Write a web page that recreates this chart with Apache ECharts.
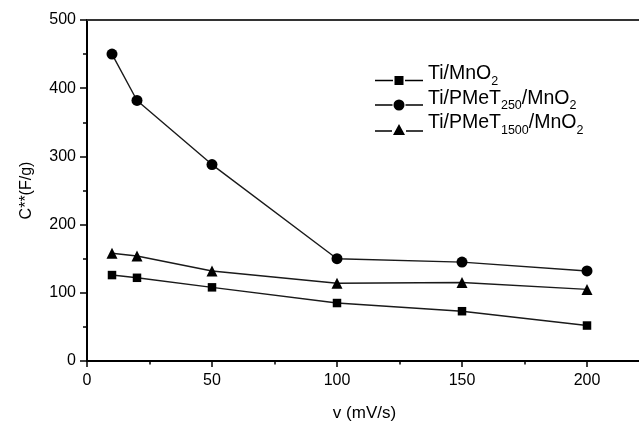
<!DOCTYPE html>
<html>
<head>
<meta charset="utf-8">
<script src="https://cdn.jsdelivr.net/npm/echarts@6/dist/echarts.min.js"></script>
<style>
html,body{margin:0;padding:0;background:#fff;}
#chart{width:639px;height:422px;}
</style>
</head>
<body>
<div id="chart"></div>
<script>
var scanRates = [10, 20, 50, 100, 150, 200];
var tiMnO2 = [126, 122, 108, 85, 73, 52];
var tiPMeT250 = [450, 382, 288, 150, 145, 132];
var tiPMeT1500 = [158, 154, 132, 114, 115, 105];
var seriesNames = ['Ti/MnO2', 'Ti/PMeT250/MnO2', 'Ti/PMeT1500/MnO2'];
var legendRich = {
  'Ti/MnO2': '{a|Ti/MnO}{s|2}',
  'Ti/PMeT250/MnO2': '{a|Ti/PMeT}{s|250}{a|/MnO}{s|2}',
  'Ti/PMeT1500/MnO2': '{a|Ti/PMeT}{s|1500}{a|/MnO}{s|2}'
};
// legend icons: line — marker — line (with small gaps)
var legendIcons = [
  'path://M0 3.85H18V5.15H0Z M19.5 0H28.5V9H19.5Z M30 3.85H48V5.15H30Z',
  'path://M0 4.85H17.5V6.15H0Z M18.5 5.5A5.5 5.5 0 1 0 29.5 5.5A5.5 5.5 0 1 0 18.5 5.5Z M30.5 4.85H48V6.15H30.5Z',
  'path://M0 6.35H17V7.65H0Z M24 0L30 11H18Z M31 6.35H48V7.65H31Z'
];

function pairs(xs, ys) { return xs.map(function (x, i) { return [x, ys[i]]; }); }

var FONT = '"Liberation Sans", Arial, Helvetica, sans-serif';
var chart = echarts.init(document.getElementById('chart'), null, {renderer: 'canvas'});

function mkSeries(name, data, symbol, size) {
  return {
    name: name, type: 'line', xAxisIndex: 0, yAxisIndex: 0,
    data: data, symbol: symbol, symbolSize: size,
    lineStyle: {color: '#1a1a1a', width: 1.4},
    itemStyle: {color: '#000', borderWidth: 0},
    animation: false, z: 3
  };
}

chart.setOption({
  backgroundColor: '#fff',
  animation: false,
  grid: {left: 87, top: 20, right: -3, bottom: 61, containLabel: false, outerBoundsMode: 'none'},
  legend: {
    orient: 'vertical', left: 370, top: 55, itemWidth: 48, itemHeight: 11, itemGap: -3.5,
    symbolKeepAspect: true,
    data: seriesNames.map(function (n, i) { return {name: n, icon: legendIcons[i]}; }),
    formatter: function (n) { return legendRich[n]; },
    itemStyle: {color: '#000', borderWidth: 0},
    textStyle: {
      color: '#000', fontFamily: FONT,
      rich: {
        a: {fontSize: 19.5, lineHeight: 15, fontFamily: FONT, color: '#000', padding: [4, 0, 4, 0], verticalAlign: 'bottom'},
        s: {fontSize: 12.5, lineHeight: 11, fontFamily: FONT, color: '#000', verticalAlign: 'bottom'}
      }
    }
  },
  xAxis: [
    {
      type: 'value', min: 0, max: 222, interval: 50, position: 'bottom',
      name: 'v (mV/s)', nameLocation: 'middle', nameGap: 44,
      nameTextStyle: {fontSize: 17, fontFamily: FONT, color: '#000'},
      axisLine: {show: true, onZero: false, lineStyle: {color: '#000', width: 2}},
      axisTick: {show: true, inside: false, length: 6, lineStyle: {color: '#000', width: 1.5}},
      axisLabel: {show: true, margin: 12, fontSize: 16, fontFamily: FONT, color: '#000', showMaxLabel: false},
      splitLine: {show: false}
    },
    {
      type: 'value', min: 0, max: 222, interval: 25, position: 'bottom',
      axisLine: {show: false},
      axisTick: {show: true, inside: false, length: 3.5, lineStyle: {color: '#000', width: 1.5}},
      axisLabel: {show: false}, splitLine: {show: false}
    },
    {
      type: 'value', min: 0, max: 222, position: 'top',
      axisLine: {show: true, onZero: false, lineStyle: {color: '#333', width: 2}},
      axisTick: {show: false}, axisLabel: {show: false}, splitLine: {show: false}
    }
  ],
  yAxis: [
    {
      type: 'value', min: 0, max: 500, interval: 100, position: 'left',
      name: 'C**(F/g)', nameLocation: 'middle', nameGap: 52, nameRotate: 90,
      nameTextStyle: {fontSize: 16, fontFamily: FONT, color: '#000'},
      axisLine: {show: true, onZero: false, lineStyle: {color: '#000', width: 2}},
      axisTick: {show: true, inside: false, length: 7, lineStyle: {color: '#000', width: 1.5}},
      minorTick: {show: true, splitNumber: 2, length: 4, lineStyle: {color: '#000', width: 1.5}},
      axisLabel: {show: true, margin: 11, fontSize: 16, fontFamily: FONT, color: '#000'},
      splitLine: {show: false}
    }
  ],
  series: [
    mkSeries(seriesNames[0], pairs(scanRates, tiMnO2), 'rect', 8.5),
    mkSeries(seriesNames[1], pairs(scanRates, tiPMeT250), 'circle', 11),
    mkSeries(seriesNames[2], pairs(scanRates, tiPMeT1500), 'triangle', 11)
  ]
});
</script>
</body>
</html>
